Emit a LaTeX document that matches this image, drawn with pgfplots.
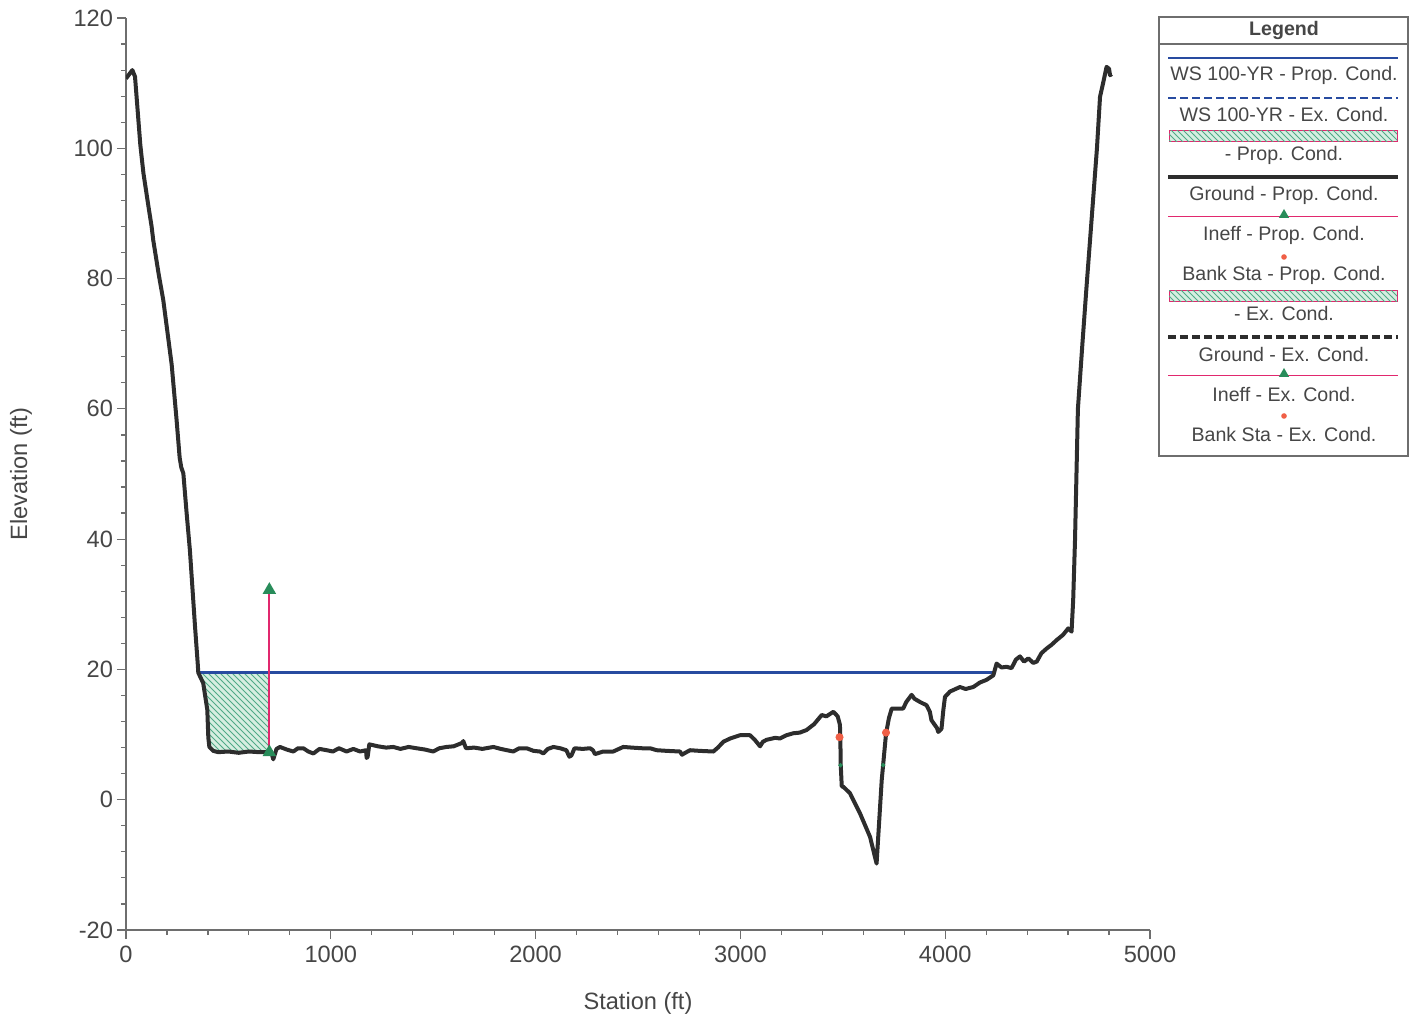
\documentclass[border=0pt]{standalone}
\usepackage{pgfplots}
\pgfplotsset{compat=1.18}
\usepackage{fontspec}
\setmainfont{Liberation Sans}
\usetikzlibrary{patterns,shapes.geometric}
\definecolor{ground}{RGB}{45,45,45}
\definecolor{wsblue}{RGB}{40,75,160}
\definecolor{ineffc}{RGB}{225,40,110}
\definecolor{trigreen}{RGB}{40,140,90}
\definecolor{bankred}{RGB}{240,95,70}
\definecolor{hatchfill}{RGB}{215,238,225}
\definecolor{hatchline}{RGB}{80,170,135}
\definecolor{txtgray}{RGB}{70,70,70}
\definecolor{axgray}{RGB}{110,110,110}
\begin{document}
\begin{tikzpicture}
\begin{axis}[
  scale only axis, width=512pt, height=456pt,
  xmin=0, xmax=5000, ymin=-20, ymax=120,
  axis lines=left,
  axis line style={-, axgray, line width=0.7pt},
  xtick={0,1000,...,5000}, ytick={-20,0,...,120},
  minor x tick num=4, minor y tick num=4,
  tick align=outside, major tick length=4.5pt, minor tick length=2.5pt,
  tick style={axgray, line width=0.6pt},
  ticklabel style={font=\fontsize{11.8}{13}\selectfont, text=txtgray},
  yticklabel style={xshift=1.5pt},
  /pgf/number format/assume math mode=true,
  /pgf/number format/set thousands separator={},
  xlabel={Station (ft)}, ylabel={Elevation (ft)},
  every axis x label/.style={at={(axis description cs:0.5,-0.08)}, anchor=center, font=\fontsize{11.8}{13}\selectfont, text=txtgray},
  every axis y label/.style={at={(axis description cs:-0.1025,0.5)}, rotate=90, anchor=center, font=\fontsize{11.8}{13}\selectfont, text=txtgray},
]
% hatched ineffective area
\addplot[draw=none, fill=hatchfill, postaction={pattern=north west lines, pattern color=hatchline}] coordinates {
(353,19.6) (377,17.9) (397,13.8) (402,9.5) (407,8.1) (426,7.5) (450,7.3) (500,7.4) (550,7.2) (600,7.4) (650,7.3) (700,7.3) (700,19.6)
} -- cycle;
% water surface
\addplot[wsblue, line width=1.5pt] coordinates {(353,19.6) (4235,19.6)};
% ground
\addplot[ground, line width=2pt, line join=round] coordinates {
(0,110.7) (31,112.0) (44,111.0) (70,100.5) (85,96.2) (110,91.0) (125,88.0) (133,85.9) (160,80.6) (182,76.7) (199,72.6) (223,66.8) (247,58.3) (262,52.5) (270,51.0) (280,50.1) (296,44.0) (312,38.3) (337,26.6) (350,21.0) (353,19.5)
(377,17.9) (397,13.8) (402,9.5) (407,8.1) (426,7.5) (450,7.3) (500,7.4) (550,7.2) (600,7.4) (650,7.3) (700,7.3) (712,7.0) (719,6.2) (735,7.8) (752,8.1) (785,7.7) (817,7.4) (840,7.9) (866,7.9) (890,7.4) (915,7.1) (945,7.8) (980,7.6) (1010,7.4) (1040,7.9) (1077,7.4) (1110,7.8) (1143,7.4) (1172,7.6) (1175,6.4) (1180,6.6) (1188,8.5) (1230,8.2) (1270,8.0) (1305,8.1) (1340,7.8) (1380,8.1) (1419,7.9) (1460,7.7) (1500,7.4) (1530,7.9) (1565,8.1) (1600,8.2) (1640,8.7) (1647,9.0) (1660,7.9) (1700,8.0) (1740,7.8) (1794,8.1) (1830,7.8) (1860,7.6) (1891,7.4) (1920,7.9) (1956,7.9) (1990,7.5) (2021,7.4) (2038,7.1) (2060,7.8) (2087,8.1) (2120,7.9) (2150,7.6) (2165,6.6) (2175,6.8) (2190,7.9) (2230,7.8) (2266,7.9) (2280,7.6) (2290,7.0) (2330,7.4) (2379,7.4) (2400,7.7) (2428,8.1) (2470,8.0) (2520,7.9) (2559,7.9) (2591,7.6) (2640,7.5) (2705,7.4) (2715,6.9) (2725,7.1) (2754,7.6) (2800,7.5) (2868,7.4) (2890,8.0) (2917,8.9) (2950,9.4) (2998,9.9) (3047,9.9) (3070,9.2) (3096,8.2) (3110,8.9) (3128,9.2) (3170,9.5) (3193,9.4) (3225,9.9) (3258,10.2) (3290,10.3) (3323,10.7) (3360,11.6) (3397,13.0) (3420,12.8) (3454,13.5) (3475,12.8) (3486,11.5) (3488,9.4) (3490,5.3) (3495,2.0) (3502,2.0) (3535,1.0) (3584,-2.1) (3633,-5.7) (3665,-9.8) (3690,3.0) (3711,10.1) (3725,12.5) (3739,14.0) (3795,14.0) (3810,15.0) (3836,16.1) (3850,15.5) (3877,15.0) (3909,14.5) (3925,13.5) (3933,12.2) (3960,11.0) (3966,10.4) (3982,10.9) (3991,13.8) (3999,15.8) (4015,16.3) (4023,16.6) (4072,17.3) (4100,17.0) (4137,17.3) (4170,18.0) (4202,18.4) (4235,19.1) (4251,20.9) (4275,20.3) (4300,20.4) (4324,20.2) (4345,21.5) (4365,22.0) (4385,21.2) (4406,21.7) (4430,21.0) (4447,21.2) (4470,22.5) (4495,23.2) (4520,23.8) (4544,24.5) (4575,25.3) (4601,26.3) (4617,25.8) (4625,30.7) (4634,40.0) (4648,60.0) (4670,70.0) (4690,78.7) (4741,100.0) (4756,107.9) (4771,110.0) (4788,112.5) (4800,112.2) (4805,111.2) (4812,111.4)
};
% ineffective flow marker
\addplot[draw=ineffc, color=ineffc, line width=0.9pt, mark=triangle*, mark size=3pt, mark options={fill=trigreen, draw=trigreen}] coordinates {(700,7.3) (700,32.2)};
% small marks on channel banks
\addplot[only marks, mark=*, mark size=0.9pt, trigreen] coordinates {(3489,5.3) (3697,5.3)};
% bank stations
\addplot[only marks, mark=*, mark size=1.8pt, bankred] coordinates {(3484,9.6) (3711,10.3)};
\end{axis}
% legend
\begin{scope}[x=1pt,y=1pt, every node/.style={font=\fontsize{9.8}{11}\selectfont, text=txtgray, inner sep=0pt}]
\draw[axgray, line width=0.6pt] (516.5,237) rectangle (641,456.5);
\draw[axgray, line width=0.6pt] (516.5,443) -- (641,443);
\node[font=\fontsize{9.8}{11}\selectfont\bfseries] at (579,450) {Legend};
\draw[wsblue, line width=1.4pt] (521,436) -- (636,436);
\node at (579,427.5) {WS 100-YR - Prop. Cond.};
\draw[wsblue, line width=1.4pt, dash pattern=on 4pt off 2pt] (521,416) -- (636,416);
\node at (579,407.5) {WS 100-YR - Ex. Cond.};
\draw[draw=ineffc, line width=0.5pt, fill=hatchfill, postaction={pattern=north west lines, pattern color=hatchline}] (521.5,394) rectangle (635.5,399.5);
\node at (579,387.5) {- Prop. Cond.};
\draw[ground, line width=1.6pt] (521,376.5) -- (636,376.5);
\node at (579,367.5) {Ground - Prop. Cond.};
\draw[ineffc, line width=0.5pt] (521,356.5) -- (636,356.5);
\node[regular polygon, regular polygon sides=3, fill=trigreen, minimum size=6pt] at (579,357.5) {};
\node at (579,347.5) {Ineff - Prop. Cond.};
\fill[bankred] (579,336.5) circle (1.4pt);
\node at (579,327.5) {Bank Sta - Prop. Cond.};
\draw[draw=ineffc, line width=0.5pt, fill=hatchfill, postaction={pattern=north west lines, pattern color=hatchline}] (521.5,314) rectangle (635.5,319.5);
\node at (579,308) {- Ex. Cond.};
\draw[ground, line width=1.6pt, dash pattern=on 4pt off 2pt] (521,296.5) -- (636,296.5);
\node at (579,288) {Ground - Ex. Cond.};
\draw[ineffc, line width=0.5pt] (521,277) -- (636,277);
\node[regular polygon, regular polygon sides=3, fill=trigreen, minimum size=6pt] at (579,278) {};
\node at (579,268) {Ineff - Ex. Cond.};
\fill[bankred] (579,257) circle (1.4pt);
\node at (579,248) {Bank Sta - Ex. Cond.};
\end{scope}
\pgfresetboundingbox
\path[use as bounding box] (-63pt,-46.5pt) rectangle (646pt,465pt);
\end{tikzpicture}
\end{document}
